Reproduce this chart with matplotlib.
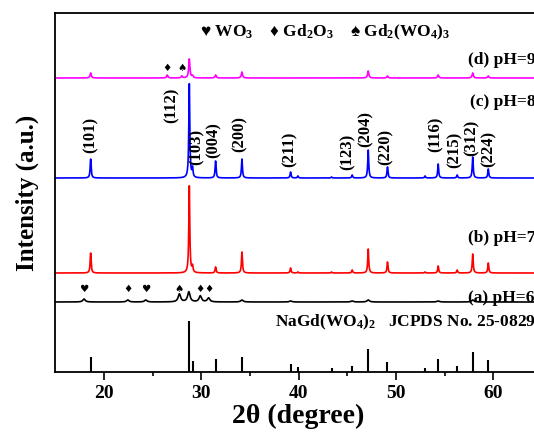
import numpy as np
import matplotlib.pyplot as plt

plt.rcParams['font.family'] = ['Liberation Serif', 'DejaVu Sans']
plt.rcParams['font.weight'] = 'bold'
plt.rcParams['axes.labelweight'] = 'bold'
plt.rcParams['mathtext.fontset'] = 'custom'
plt.rcParams['mathtext.rm'] = 'Liberation Serif:bold'
plt.rcParams['mathtext.default'] = 'rm'

# NaGd(WO4)2 reflections (2theta, degree)
positions = [18.63, 28.77, 29.10, 31.47, 34.18, 39.18, 39.93, 43.39, 45.51,
             47.16, 49.14, 53.00, 54.35, 56.30, 57.90, 59.50]
jcpds = [15, 51, 11, 13, 15, 8, 5, 4, 6, 23, 10, 4, 13, 6, 20, 12]
c_ph8 = [19, 94, 9, 17, 19, 6, 2, 1, 3, 28, 11, 2, 14, 3, 21, 9]
b_ph7 = [20, 87, 6, 6, 21, 5, 1, 1, 3, 24, 11, 1, 7, 3, 19, 10]

d_pos = [18.63, 26.5, 28.0, 28.77, 29.1, 31.47, 34.18, 47.16, 49.14, 54.35, 57.9, 59.5]
d_ph9 = [5, 3, 2, 19, 2, 3, 6, 7, 2, 3, 5, 2]

a_pos = [17.95, 22.45, 24.3, 27.75, 28.72, 29.9, 30.75, 34.18, 39.18, 45.51, 47.16, 54.35, 57.9]
a_ph6 = [3, 2, 2, 8, 10, 6, 4, 2, 1, 1, 2, 1, 2]

# offsets of the stacked patterns
offsets = {'a': 70, 'b': 99, 'c': 194, 'd': 294}

hkl = ['(101)', '(112)', '(103)', '(004)', '(200)', '(211)', '(123)', '(204)',
       '(220)', '(116)', '(215)', '(312)', '(224)']
hkl_x = [18.63, 26.95, 29.5, 31.3, 33.9, 39.1, 45.0, 46.9, 48.9, 54.1, 56.05, 57.8, 59.5]
hkl_y = [219, 249, 207, 214, 220, 205, 202, 225, 207, 220, 204, 216, 205]


def pattern(x, pos, heights, width):
    y = np.zeros_like(x)
    for p, h in zip(pos, heights):
        y += h / (1 + ((x - p) / (width / 2)) ** 2)
    return y


x = np.linspace(15, 65, 8000)

fig = plt.figure(figsize=(5.34, 4.36), dpi=100)
ax = fig.add_axes([0.1036, 0.1468, 0.911, 0.8234])

ax.plot(x, offsets['d'] + pattern(x, d_pos, d_ph9, 0.15), color='#FF00FF', lw=1.2)
ax.plot(x, offsets['c'] + pattern(x, positions, c_ph8, 0.12), color='#0000FF', lw=1.2)
ax.plot(x, offsets['b'] + pattern(x, positions, b_ph7, 0.12), color='#FF0000', lw=1.2)
ax.plot(x, offsets['a'] + pattern(x, a_pos, a_ph6, 0.3), color='black', lw=1.2)
ax.vlines(positions, 0, jcpds, color='black', lw=1.5)

for lab, lx, ly in zip(hkl, hkl_x, hkl_y):
    ax.text(lx, ly, lab, rotation=90, ha='center', va='bottom', fontsize=12)

sym_kw = dict(ha='center', va='center', fontsize=7.5, family='DejaVu Sans')
for s, sx in zip(['\u2666', '\u2660'], [26.5, 28.0]):
    ax.text(sx, 304, s, **sym_kw)
for s, sx in zip(['\u2665', '\u2666', '\u2665', '\u2660', '\u2666', '\u2666'],
                 [17.95, 22.45, 24.3, 27.75, 29.9, 30.8]):
    ax.text(sx, 83, s, **sym_kw)

ax.text(42.7, 340, '\u2665 WO$_3$    \u2666 Gd$_2$O$_3$    \u2660 Gd$_2$(WO$_4$)$_3$',
        ha='center', va='center', fontsize=12.5)

ax.text(57.4, 312, '(d) pH=9', ha='left', va='center', fontsize=12.5)
ax.text(57.6, 270, '(c) pH=8', ha='left', va='center', fontsize=12.5)
ax.text(57.4, 134, '(b) pH=7', ha='left', va='center', fontsize=12.5)
ax.text(57.4, 74, '(a) pH=6', ha='left', va='center', fontsize=12.5)
ax.text(37.6, 50, 'NaGd(WO$_4$)$_2$   JCPDS No. 25-0829', ha='left', va='center', fontsize=12.5)

ax.set_xlim(15, 65)
ax.set_ylim(0, 359)
ax.set_xticks([20, 30, 40, 50, 60])
ax.set_xticks([25, 35, 45, 55, 65], minor=True)
ax.set_yticks([])
ax.tick_params(axis='x', which='major', direction='out', length=6, width=1.2, labelsize=14)
ax.tick_params(axis='x', which='minor', direction='out', length=3, width=1.2)
for sp in ax.spines.values():
    sp.set_linewidth(1.3)

ax.set_xlabel('2\u03b8 (degree)', fontsize=20, labelpad=1)
ax.set_ylabel('Intensity (a.u.)', fontsize=18, labelpad=12)

fig.savefig('out.png', dpi=100)
